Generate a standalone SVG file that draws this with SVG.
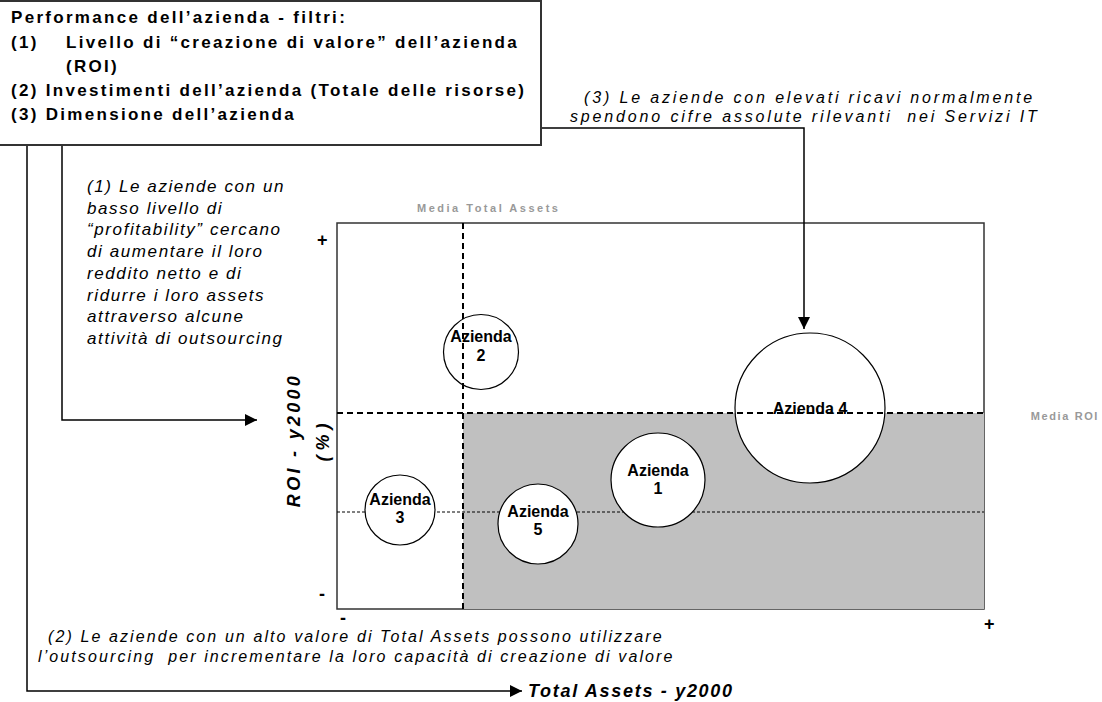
<svg xmlns="http://www.w3.org/2000/svg" width="1102" height="702" viewBox="0 0 1102 702">
<defs>
<marker id="arr" markerUnits="userSpaceOnUse" markerWidth="12" markerHeight="12" refX="12" refY="6" orient="auto">
<path d="M0,0 L12,6 L0,12 z" fill="#000"/>
</marker>
<style>
.title{font-family:"Liberation Sans",Arial,sans-serif;font-weight:bold;font-size:17px;letter-spacing:2.3px;fill:#000}
.note{font-family:"Liberation Sans",Arial,sans-serif;font-style:italic;fill:#000}
.n1{font-size:17px;letter-spacing:1.6px}
.n2{font-size:16px;letter-spacing:2.1px}
.n3{font-size:16px;letter-spacing:2.85px}
.axis{font-family:"Liberation Sans",Arial,sans-serif;font-style:italic;font-weight:bold;font-size:18px;letter-spacing:1.7px;fill:#000}
.guide{font-family:"Liberation Sans",Arial,sans-serif;font-weight:bold;font-size:11px;letter-spacing:2.5px;fill:#999}
.pm{font-family:"Liberation Sans",Arial,sans-serif;font-weight:bold;font-size:18px;fill:#000}
.node circle{fill:#fff;stroke:#000;stroke-width:1.2}
.node text{font-family:"Liberation Sans",Arial,sans-serif;font-weight:bold;font-size:16px;fill:#000;text-anchor:middle}
.conn{fill:none;stroke:#000;stroke-width:1.5}
.thick{stroke:#000;stroke-width:2;stroke-dasharray:6 4;fill:none}
.thin{stroke:#000;stroke-width:1;stroke-dasharray:3 2;fill:none}
</style>
</defs>
<rect width="1102" height="702" fill="#fff"/>

<!-- chart frame and quadrant -->
<g id="chart">
<rect x="337" y="223" width="647" height="386" fill="#fff" stroke="#333" stroke-width="1.5"/>
<rect x="463" y="413" width="521" height="196" fill="#c0c0c0"/>
<line class="thin" x1="337" y1="512" x2="984" y2="512"/>
</g>

<!-- connectors -->
<g id="connectors">
<polyline class="conn" points="62,146 62,420 257,420" marker-end="url(#arr)"/>
<polyline class="conn" points="27,146 27,691 522,691" marker-end="url(#arr)"/>
<polyline class="conn" points="541,128 804,128 804,329" marker-end="url(#arr)"/>
</g>

<!-- title box -->
<g id="title-box">
<rect x="-2" y="1" width="543" height="144" fill="#fff" stroke="#333" stroke-width="2"/>
<text class="title" x="11" y="23">Performance dell’azienda - filtri:</text>
<text class="title" x="11" y="48">(1)</text>
<text class="title" x="66" y="48">Livello di “creazione di valore” dell’azienda</text>
<text class="title" x="66" y="72">(ROI)</text>
<text class="title" x="11" y="96">(2) Investimenti dell’azienda (Totale delle risorse)</text>
<text class="title" x="11" y="120">(3) Dimensione dell’azienda</text>
</g>

<!-- annotations -->
<g id="note-3" class="note n3">
<text x="584" y="103">(3) Le aziende con elevati ricavi normalmente</text>
<text x="570" y="122">spendono cifre assolute rilevanti&#160; nei Servizi IT</text>
</g>
<g id="note-1" class="note n1">
<text x="87" y="192">(1) Le aziende con un</text>
<text x="87" y="213.7">basso livello di</text>
<text x="87" y="235.4">“profitability” cercano</text>
<text x="87" y="257.1">di aumentare il loro</text>
<text x="87" y="278.8">reddito netto e di</text>
<text x="87" y="300.5">ridurre i loro assets</text>
<text x="87" y="322.2">attraverso alcune</text>
<text x="87" y="343.9">attività di outsourcing</text>
</g>
<g id="note-2" class="note n2">
<text x="48" y="642">(2) Le aziende con un alto valore di Total Assets possono utilizzare</text>
<text x="38" y="662">l’outsourcing&#160; per incrementare la loro capacità di creazione di valore</text>
</g>

<!-- axes labels -->
<g id="axis-labels">
<text class="axis" x="528" y="697">Total Assets - y2000</text>
<text class="axis" transform="translate(300,440) rotate(-90)" text-anchor="middle" style="letter-spacing:3.3px">ROI - y2000</text>
<text class="axis" transform="translate(329,440) rotate(-90)" text-anchor="middle" style="letter-spacing:5px">(%)</text>
<text class="pm" x="317" y="246">+</text>
<text class="pm" x="319" y="600">-</text>
<text class="pm" x="340" y="624">-</text>
<text class="pm" x="984" y="630">+</text>
<text class="guide" x="417" y="212">Media Total Assets</text>
<text class="guide" x="1099" y="420" text-anchor="end" style="letter-spacing:1.6px">Media ROI</text>
</g>

<!-- nodes -->
<g id="azienda-3" class="node">
<circle cx="400" cy="510" r="35"/>
<text x="400" y="505">Azienda</text>
<text x="400" y="523">3</text>
</g>
<g id="azienda-5" class="node">
<circle cx="538" cy="524" r="40"/>
<text x="538" y="517">Azienda</text>
<text x="538" y="535">5</text>
</g>
<g id="azienda-1" class="node">
<circle cx="658" cy="480" r="47"/>
<text x="658" y="476">Azienda</text>
<text x="658" y="494">1</text>
</g>
<g id="azienda-2" class="node">
<circle cx="481" cy="352" r="37.5"/>
<text x="481" y="342">Azienda</text>
<text x="481" y="361">2</text>
</g>
<g id="azienda-4" class="node">
<circle cx="810" cy="408" r="75"/>
</g>

<!-- mean guides -->
<g id="mean-lines">
<line class="thick" x1="463" y1="223" x2="463" y2="609"/>
<line class="thick" x1="337" y1="413" x2="984" y2="413"/>
</g>
<g id="azienda-4-label" class="node">
<text x="810" y="414">Azienda 4</text>
</g>
</svg>
